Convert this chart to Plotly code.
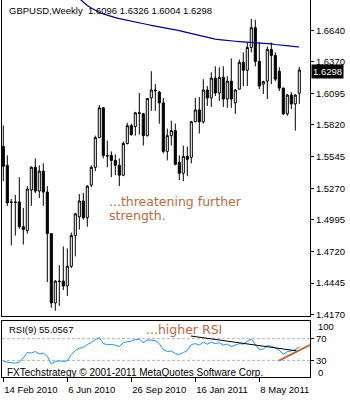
import pandas as pd
import plotly.graph_objects as go

# ---- weekly GBPUSD bars ----
dates = pd.date_range("2010-02-14", periods=75, freq="7D")

open_ = [1.5633, 1.5469, 1.5151, 1.5150, 1.5151, 1.4935, 1.4901, 1.5254, 1.5452, 1.5245,
         1.5418, 1.5237, 1.4875, 1.4272, 1.4462, 1.4462, 1.4419, 1.4591, 1.4858, 1.5021,
         1.5159, 1.5013, 1.5297, 1.5452, 1.5710, 1.5969, 1.5555, 1.5555, 1.5512, 1.5469,
         1.5383, 1.5659, 1.5814, 1.5805, 1.5926, 1.5917, 1.5727, 1.6055, 1.6124, 1.6106,
         1.6012, 1.5590, 1.5727, 1.5771, 1.5495, 1.5400, 1.5547, 1.5538, 1.5848, 1.5951,
         1.5848, 1.6124, 1.6055, 1.6227, 1.6098, 1.6235, 1.6046, 1.6201, 1.6012, 1.6132,
         1.6365, 1.6296, 1.6494, 1.6666, 1.6373, 1.6175, 1.6201, 1.6477, 1.6425, 1.6287,
         1.6141, 1.5917, 1.6080, 1.6003, 1.6096]
high = [1.5814, 1.5555, 1.5176, 1.5211, 1.5366, 1.5099, 1.5288, 1.5460, 1.5529, 1.5469,
        1.5486, 1.5288, 1.4880, 1.4470, 1.4600, 1.4763, 1.4746, 1.4884, 1.5056, 1.5219,
        1.5228, 1.5297, 1.5469, 1.5727, 1.5994, 1.5975, 1.5684, 1.5590, 1.5564, 1.5529,
        1.5676, 1.5839, 1.5831, 1.5934, 1.6098, 1.5925, 1.6055, 1.6287, 1.6175, 1.6115,
        1.6055, 1.5788, 1.5857, 1.5831, 1.5555, 1.5641, 1.5633, 1.5855, 1.6055, 1.6063,
        1.6218, 1.6158, 1.6279, 1.6330, 1.6322, 1.6330, 1.6244, 1.6399, 1.6132, 1.6390,
        1.6451, 1.6537, 1.6743, 1.6735, 1.6537, 1.6205, 1.6502, 1.6537, 1.6451, 1.6322,
        1.6145, 1.6089, 1.6106, 1.6089, 1.6326]
low = [1.5331, 1.5116, 1.4772, 1.4858, 1.4918, 1.4780, 1.4875, 1.5116, 1.5228, 1.5185,
       1.5116, 1.4453, 1.4229, 1.4204, 1.4247, 1.4384, 1.4333, 1.4575, 1.4677, 1.4910,
       1.4996, 1.4935, 1.5280, 1.5418, 1.5705, 1.5529, 1.5452, 1.5366, 1.5383, 1.5288,
       1.5374, 1.5650, 1.5727, 1.5727, 1.5736, 1.5641, 1.5720, 1.5943, 1.5943, 1.5831,
       1.5572, 1.5512, 1.5641, 1.5469, 1.5340, 1.5331, 1.5374, 1.5486, 1.5843, 1.5745,
       1.5831, 1.5986, 1.5977, 1.6072, 1.6029, 1.5977, 1.5969, 1.5969, 1.5917, 1.6128,
       1.6158, 1.6158, 1.6451, 1.6330, 1.6132, 1.6089, 1.6046, 1.6175, 1.6201, 1.6115,
       1.5908, 1.5900, 1.5960, 1.5771, 1.6004]
close = [1.5461, 1.5142, 1.5147, 1.5146, 1.4935, 1.4910, 1.5263, 1.5452, 1.5245, 1.5418,
         1.5237, 1.4875, 1.4272, 1.4462, 1.4458, 1.4419, 1.4591, 1.4858, 1.5047, 1.5159,
         1.5013, 1.5288, 1.5452, 1.5710, 1.5969, 1.5555, 1.5550, 1.5512, 1.5469, 1.5383,
         1.5659, 1.5814, 1.5736, 1.5926, 1.5922, 1.5727, 1.6050, 1.6124, 1.6118, 1.6012,
         1.5590, 1.5727, 1.5771, 1.5478, 1.5400, 1.5547, 1.5521, 1.5848, 1.5951, 1.5848,
         1.6124, 1.6055, 1.6227, 1.6098, 1.6235, 1.6046, 1.6201, 1.6046, 1.6124, 1.6365,
         1.6296, 1.6494, 1.6666, 1.6373, 1.6158, 1.6197, 1.6477, 1.6425, 1.6218, 1.6141,
         1.5917, 1.6080, 1.6003, 1.6080, 1.6298]

# long moving average (only the part inside the visible price range matters)
ma = [None] * 18 + [
    1.6950, 1.6920, 1.6884, 1.6860, 1.6838, 1.6817, 1.6798, 1.6786, 1.6774, 1.6762,
    1.6754, 1.6745, 1.6737, 1.6728, 1.6720, 1.6713, 1.6706, 1.6700, 1.6694, 1.6687,
    1.6681, 1.6675, 1.6668, 1.6662, 1.6655, 1.6649, 1.6640, 1.6632, 1.6623, 1.6614,
    1.6606, 1.6597, 1.6588, 1.6580, 1.6571, 1.6567, 1.6563, 1.6558, 1.6554, 1.6551,
    1.6548, 1.6545, 1.6543, 1.6540, 1.6538, 1.6537, 1.6534, 1.6532, 1.6528, 1.6525,
    1.6520, 1.6515, 1.6511, 1.6508, 1.6505, 1.6502, 1.6498]

rsi = [28.2, 26.4, 25.5, 25.1, 26.4, 34.5, 44.5, 43.6, 46.4, 41.8,
       43.6, 37.3, 23.6, 28.2, 29.1, 28.2, 29.1, 40.9, 48.2, 52.7,
       53.6, 59.1, 62.7, 68.2, 71.8, 60.9, 59.1, 59.1, 58.2, 55.5,
       62.7, 64.5, 65.5, 68.2, 69.1, 62.7, 67.3, 67.3, 66.4, 60.9,
       50.0, 46.4, 47.3, 42.7, 40.9, 44.5, 48.2, 59.1, 60.9, 58.2,
       63.6, 60.0, 63.6, 60.9, 62.7, 58.2, 60.0, 55.5, 58.2, 60.9,
       60.0, 65.5, 69.1, 59.1, 50.0, 50.9, 57.3, 56.4, 52.7, 49.1,
       40.9, 46.4, 47.3, 50.0, 55.0567]

# hand-drawn RSI trendlines: (bar position, RSI level)
rsi_resistance = [(46.9, 74.9), (73.35, 47.6)]
rsi_support = [(68.9, 29.5), (76.7, 58.5)]

price_ticks = [1.6640, 1.6370, 1.6095, 1.5820, 1.5545, 1.5270, 1.4995, 1.4720, 1.4445, 1.4170]
rsi_levels = [30, 70]
date_tick_bars = [0, 16, 32, 48, 64]

# ---- geometry helpers (pixels -> paper) ----
W, H = 350, 400
def px(x):
    return x / W
def py(y):
    return 1 - y / H

bars = list(range(len(close)))
xr = [-0.325, 76.675]
brown = "#B8693D"
axis_font = dict(family="Liberation Sans, Arial, sans-serif", size=9.5, color="black")
note_font = dict(family="DejaVu Sans, Verdana, sans-serif", size=12.5, color=brown)

fig = go.Figure()
fig.add_trace(go.Candlestick(
    x=bars, open=open_, high=high, low=low, close=close,
    increasing=dict(line=dict(color="black", width=1), fillcolor="white"),
    decreasing=dict(line=dict(color="black", width=1), fillcolor="black"),
    whiskerwidth=0, xaxis="x", yaxis="y", hoverinfo="skip", showlegend=False))
fig.add_trace(go.Scatter(x=bars, y=ma, mode="lines", line=dict(color="#00008B", width=1.2),
                         xaxis="x", yaxis="y", hoverinfo="skip", showlegend=False))
fig.add_trace(go.Scatter(x=bars, y=rsi, mode="lines", line=dict(color="#1E90FF", width=1),
                         xaxis="x2", yaxis="y2", hoverinfo="skip", showlegend=False))
fig.add_trace(go.Scatter(x=[p[0] for p in rsi_resistance], y=[p[1] for p in rsi_resistance],
                         mode="lines", line=dict(color="black", width=1),
                         xaxis="x2", yaxis="y2", hoverinfo="skip", showlegend=False))
fig.add_trace(go.Scatter(x=[p[0] for p in rsi_support], y=[p[1] for p in rsi_support],
                         mode="lines", line=dict(color=brown, width=2),
                         xaxis="x2", yaxis="y2", hoverinfo="skip", showlegend=False, cliponaxis=False))

date_text = [f"{dates[i].day} {dates[i].strftime('%b %Y')}" for i in date_tick_bars]

fig.update_layout(
    width=W, height=H, margin=dict(l=0, r=0, t=0, b=0),
    paper_bgcolor="white", plot_bgcolor="white", showlegend=False,
    boxgap=0.25,
    xaxis=dict(domain=[px(2), px(310)], range=xr, anchor="y", showticklabels=False,
               showgrid=False, zeroline=False, showline=True, linecolor="black", linewidth=1,
               ticks="", rangeslider=dict(visible=False), fixedrange=True),
    yaxis=dict(domain=[py(319), 1], range=[1.4160, 1.6907], anchor="x", side="right",
               showgrid=False, zeroline=False, showline=True, mirror=True,
               linecolor="black", linewidth=1, ticks="outside", ticklen=3, tickcolor="black",
               tickvals=price_ticks, ticktext=[f"{v:.4f}" for v in price_ticks],
               tickfont=axis_font),
    xaxis2=dict(domain=[px(2), px(310)], range=xr, anchor="y2", showgrid=False,
                zeroline=False, showline=True, mirror=True, linecolor="black", linewidth=1,
                ticks="outside", ticklen=4, tickcolor="black",
                tickvals=date_tick_bars, ticktext=date_text,
                ticklabelposition="outside right", ticklabelstandoff=4, tickfont=axis_font),
    yaxis2=dict(domain=[py(380.5), py(324)], range=[0, 103], anchor="x2", side="right",
                showgrid=False, zeroline=False, showline=True, mirror=True,
                linecolor="black", linewidth=1, ticks="outside", ticklen=3, tickcolor="black",
                tickvals=rsi_levels, ticktext=[str(v) for v in rsi_levels],
                tickfont=axis_font),
)

# RSI reference levels
for lvl in rsi_levels:
    fig.add_shape(type="line", xref="x2 domain", yref="y2", x0=0, x1=1, y0=lvl, y1=lvl,
                  line=dict(color="#B4B4B4", width=1, dash="3px,2px"), layer="below")

# RSI 100 / 0 labels sit just inside the panel
fig.add_annotation(x=px(316), xref="paper", xanchor="left", y=100, yref="y2", yshift=-4.5,
                   text="100", showarrow=False, font=axis_font)
fig.add_annotation(x=px(316), xref="paper", xanchor="left", y=0, yref="y2", yshift=4.5,
                   text="0", showarrow=False, font=axis_font)

# current price tag
fig.add_annotation(x=px(311), xref="paper", xanchor="left", y=close[-1], yref="y",
                   yshift=-1, text=f"{close[-1]:.4f}", showarrow=False, bgcolor="black",
                   font=dict(family=axis_font["family"], size=9.5, color="white"),
                   borderpad=1)

# header and panel captions
fig.add_annotation(x=px(7), y=py(11), xref="paper", yref="paper", xanchor="left",
                   yanchor="middle", showarrow=False, font=axis_font,
                   text=f"GBPUSD,Weekly  {open_[-1]:.4f} {high[-1]:.4f} {low[-1]:.4f} {close[-1]:.4f}")
fig.add_annotation(x=px(7), y=py(333), xref="paper", yref="paper", xanchor="left",
                   yanchor="middle", showarrow=False, font=axis_font,
                   text=f"RSI(9) {rsi[-1]:.4f}")
fig.add_annotation(x=px(5), y=py(376), xref="paper", yref="paper", xanchor="left",
                   yanchor="middle", showarrow=False,
                   font=dict(family=axis_font["family"], size=10, color="black"),
                   text="FXTechstrategy © 2001-2011 MetaQuotes Software Corp.")

# commentary
fig.add_annotation(x=px(107), y=py(204), xref="paper", yref="paper", xanchor="left",
                   yanchor="middle", showarrow=False, font=note_font,
                   text="...threatening further")
fig.add_annotation(x=px(107), y=py(218), xref="paper", yref="paper", xanchor="left",
                   yanchor="middle", showarrow=False, font=note_font, text="strength.")
fig.add_annotation(x=px(144), y=py(333), xref="paper", yref="paper", xanchor="left",
                   yanchor="middle", showarrow=False, font=note_font, text="...higher RSI")

fig.write_html("out.html")
